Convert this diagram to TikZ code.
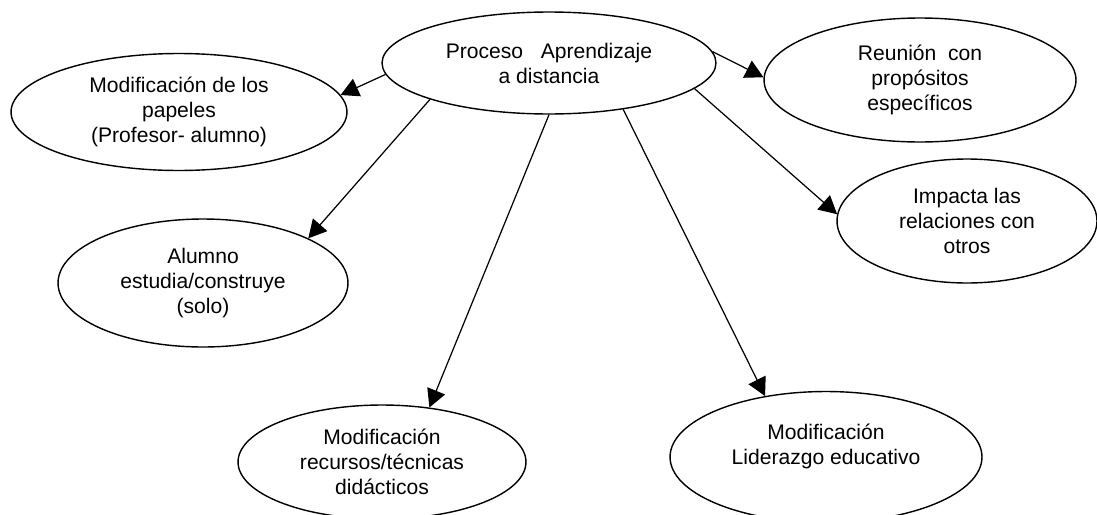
\documentclass[tikz,border=0pt]{standalone}
\usepackage{fontspec}
\setmainfont{Liberation Sans}
\usepackage{tikz}
\usetikzlibrary{shapes.geometric}
\usetikzlibrary{arrows.meta}

\begin{document}
\begin{tikzpicture}[x=0.02cm, y=-0.02cm,
        burbuja/.style={ellipse, draw, line width=0.8pt, inner sep=0pt, align=center,
            font=\fontsize{12}{14.2}\selectfont},
        flecha/.style={-{Triangle[length=0.36cm, width=0.38cm]}, line width=0.7pt}]
        \useasboundingbox (0, 0) rectangle (1097, 514);
        \node (proceso) at (549, 63) [burbuja, minimum width=6.68cm, minimum height=2.04cm] {Proceso~~~Aprendizaje\\a distancia};
        \node (papeles) at (179, 112) [burbuja, minimum width=6.72cm, minimum height=2.34cm] {Modificación de los\\papeles\\(Profesor- alumno)};
        \node (reunion) at (920, 80) [burbuja, minimum width=6.24cm, minimum height=2.48cm] {Reunión~~con\\propósitos\\específicos};
        \node (impacta) at (967, 221) [burbuja, minimum width=5.2cm, minimum height=2.48cm] {Impacta las\\relaciones con\\otros};
        \node (alumno) at (203, 283) [burbuja, minimum width=5.8cm, minimum height=2.56cm] {Alumno\\estudia/construye\\(solo)};
        \node (recursos) at (382, 462) [burbuja, minimum width=5.76cm, minimum height=2.28cm] {Modificación\\recursos/técnicas\\didácticos};
        \node (liderazgo) at (826, 457) [burbuja, minimum width=6.24cm, minimum height=2.62cm] {Modificación\\Liderazgo educativo\\\mbox{}};
        \draw [flecha] (proceso.184) -- (papeles.6);
        \draw [flecha] (proceso.197) -- (alumno.23);
        \draw [flecha] (proceso.270) -- (recursos.49);
        \draw [flecha] (proceso.328) -- (liderazgo.135);
        \draw [flecha] (proceso.350) -- (impacta.177);
        \draw [flecha] (proceso.4) -- (reunion.179);
    \end{tikzpicture}
\end{document}
